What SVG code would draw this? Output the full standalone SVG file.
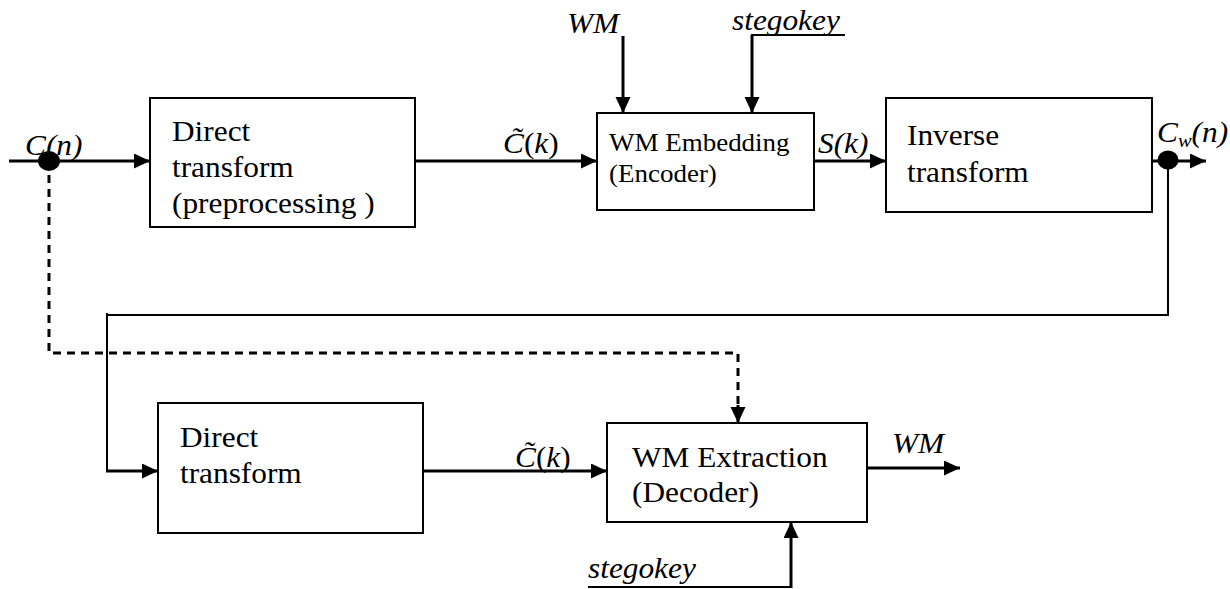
<svg xmlns="http://www.w3.org/2000/svg" width="1230" height="589" viewBox="0 0 1230 589">
  <style>
    .box { fill: #fff; stroke: #000; stroke-width: 2; }
    text { font-family: 'Liberation Serif', 'Times New Roman', 'DejaVu Serif', serif; font-size: 29px; fill: #000; }
    .sm { font-size: 25px; }
    .it { font-style: italic; }
    .thick { fill: none; stroke: #000; stroke-width: 3; }
    .thin { fill: none; stroke: #000; stroke-width: 2; }
    .dash { fill: none; stroke: #000; stroke-width: 3; stroke-dasharray: 8 6; }
  </style>
  <defs>
    <marker id="arrow" markerUnits="userSpaceOnUse" markerWidth="17" markerHeight="16" refX="16" refY="7.5" orient="auto">
      <path d="M0,0 L16,7.5 L0,15 z" fill="#000"/>
    </marker>
  </defs>

  <rect width="1230" height="589" fill="#fff"/>

  <!-- connectors -->
  <g id="connectors">
    <!-- input C(n) into the direct transform -->
    <line class="thick" x1="9" y1="161" x2="150" y2="161" marker-end="url(#arrow)"/>
    <!-- transform output into the embedder -->
    <line class="thick" x1="415" y1="161" x2="597" y2="161" marker-end="url(#arrow)"/>
    <!-- embedder output into the inverse transform -->
    <line class="thick" x1="814" y1="161" x2="886" y2="161" marker-end="url(#arrow)"/>
    <!-- watermarked signal out -->
    <line class="thick" x1="1152" y1="161" x2="1206" y2="161" marker-end="url(#arrow)"/>
    <!-- WM and stegokey into the embedder -->
    <line class="thick" x1="623" y1="36" x2="623" y2="113" marker-end="url(#arrow)"/>
    <polyline class="thin" points="845,35 752,35 752,60"/>
    <line class="thick" x1="752" y1="35" x2="752" y2="113" marker-end="url(#arrow)"/>
    <!-- original signal (dashed) to the extractor -->
    <polyline class="dash" points="49,161 49,353 738,353 738,410"/>
    <line class="thick" x1="738" y1="405" x2="738" y2="423" marker-end="url(#arrow)"/>
    <!-- feedback of the watermarked signal -->
    <polyline class="thin" points="1168,161 1168,315 108,315"/>
    <polyline class="thin" points="107,313 107,471"/>
    <line class="thick" x1="106" y1="471" x2="158" y2="471" marker-end="url(#arrow)"/>
    <!-- second direct transform into the extractor -->
    <line class="thick" x1="423" y1="471" x2="607" y2="471" marker-end="url(#arrow)"/>
    <!-- extracted WM out -->
    <line class="thick" x1="867" y1="468" x2="960" y2="468" marker-end="url(#arrow)"/>
    <!-- stegokey into the extractor -->
    <polyline class="thin" points="588,587 791,587"/>
    <line class="thick" x1="791" y1="588" x2="791" y2="522" marker-end="url(#arrow)"/>
    <!-- branch points -->
    <ellipse cx="49" cy="161" rx="11" ry="10" fill="#000"/>
    <ellipse cx="1168" cy="160" rx="10.5" ry="9.5" fill="#000"/>
  </g>

  <!-- signal labels -->
  <g id="labels">
    <text class="it" transform="translate(25,155) scale(1.08,1)">C(n)</text>
    <text class="it" transform="translate(503,153) scale(1.08,1)">C&#x303;<tspan font-style="normal">(</tspan>k<tspan font-style="normal">)</tspan></text>
    <text class="it" transform="translate(818,153) scale(1.08,1)">S(k)</text>
    <text class="it" transform="translate(1157,142) scale(1.08,1)">C<tspan font-size="19px" dy="5">w</tspan><tspan dy="-5">(n)</tspan></text>
    <text class="it" transform="translate(567,33) scale(1.08,1)">WM</text>
    <text class="it" transform="translate(732,30) scale(1.08,1)">stegokey</text>
    <text class="it" transform="translate(515,467) scale(1.08,1)">C&#x303;<tspan font-style="normal">(</tspan>k<tspan font-style="normal">)</tspan></text>
    <text class="it" transform="translate(892,453) scale(1.08,1)">WM</text>
    <text class="it" transform="translate(588,578) scale(1.08,1)">stegokey</text>
  </g>

  <g id="direct-transform-1">
    <rect class="box" x="150" y="98" width="265" height="129"/>
    <text transform="translate(172,141) scale(1.08,1)">Direct</text>
    <text transform="translate(172,177) scale(1.08,1)">transform</text>
    <text transform="translate(172,213) scale(1.08,1)">(preprocessing )</text>
  </g>

  <g id="wm-embedding">
    <rect class="box" x="597" y="113" width="217" height="97"/>
    <text class="sm" transform="translate(609,151) scale(1.08,1)">WM Embedding</text>
    <text class="sm" transform="translate(609,182) scale(1.08,1)">(Encoder)</text>
  </g>

  <g id="inverse-transform">
    <rect class="box" x="886" y="98" width="266" height="114"/>
    <text transform="translate(907,145) scale(1.08,1)">Inverse</text>
    <text transform="translate(907,182) scale(1.08,1)">transform</text>
  </g>

  <g id="direct-transform-2">
    <rect class="box" x="158" y="403" width="265" height="130"/>
    <text transform="translate(180,447) scale(1.08,1)">Direct</text>
    <text transform="translate(180,483) scale(1.08,1)">transform</text>
  </g>

  <g id="wm-extraction">
    <rect class="box" x="607" y="423" width="260" height="99"/>
    <text transform="translate(632,467) scale(1.08,1)">WM Extraction</text>
    <text transform="translate(632,502) scale(1.08,1)">(Decoder)</text>
  </g>
</svg>
